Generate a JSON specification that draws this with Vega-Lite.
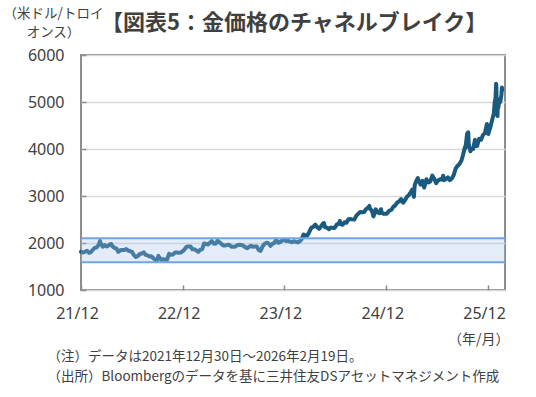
{
  "$schema": "https://vega.github.io/schema/vega-lite/v6.json",
  "autosize": "none",
  "width": 424,
  "height": 235,
  "padding": {"left": 81, "top": 55, "right": 31, "bottom": 107},
  "background": "white",
  "title": {"text": "【図表5：金価格のチャネルブレイク】", "anchor": "start", "frame": "group", "dx": 20, "dy": 47, "offset": 18, "fontSize": 22, "fontWeight": "bold", "color": "#404040", "font": "Noto Sans CJK JP"},
  "config": {
    "font": "Noto Sans CJK JP",
    "view": {"stroke": "#8c8c8c", "strokeWidth": 2},
    "axis": {"labelColor": "#404040", "titleColor": "#404040", "labelFont": "Noto Sans", "labelFontSize": 16, "titleFont": "Noto Sans CJK JP", "titleFontWeight": "normal"}
  },
  "datasets": {
    "gold": [
      {"d":"2021-12-30","p":1815},{"d":"2022-01-07","p":1797},{"d":"2022-01-14","p":1817},{"d":"2022-01-21","p":1835},{"d":"2022-01-28","p":1791},
      {"d":"2022-02-04","p":1807},{"d":"2022-02-11","p":1859},{"d":"2022-02-18","p":1898},{"d":"2022-02-24","p":1903},{"d":"2022-03-04","p":1966},
      {"d":"2022-03-08","p":2043},{"d":"2022-03-11","p":1988},{"d":"2022-03-18","p":1921},{"d":"2022-03-25","p":1958},{"d":"2022-04-01","p":1925},
      {"d":"2022-04-08","p":1947},{"d":"2022-04-14","p":1975},{"d":"2022-04-18","p":1978},{"d":"2022-04-22","p":1931},{"d":"2022-04-29","p":1896},
      {"d":"2022-05-06","p":1883},{"d":"2022-05-13","p":1811},{"d":"2022-05-20","p":1846},{"d":"2022-05-27","p":1853},{"d":"2022-06-03","p":1850},
      {"d":"2022-06-10","p":1871},{"d":"2022-06-17","p":1840},{"d":"2022-06-24","p":1826},{"d":"2022-07-01","p":1811},{"d":"2022-07-08","p":1742},
      {"d":"2022-07-15","p":1703},{"d":"2022-07-21","p":1718},{"d":"2022-07-29","p":1766},{"d":"2022-08-05","p":1775},{"d":"2022-08-12","p":1802},
      {"d":"2022-08-19","p":1747},{"d":"2022-08-26","p":1737},{"d":"2022-09-02","p":1712},{"d":"2022-09-09","p":1716},{"d":"2022-09-16","p":1675},
      {"d":"2022-09-23","p":1644},{"d":"2022-09-28","p":1630},{"d":"2022-10-04","p":1725},{"d":"2022-10-07","p":1695},{"d":"2022-10-14","p":1644},
      {"d":"2022-10-21","p":1656},{"d":"2022-10-28","p":1645},{"d":"2022-11-03","p":1630},{"d":"2022-11-11","p":1771},{"d":"2022-11-18","p":1751},
      {"d":"2022-11-25","p":1754},{"d":"2022-12-02","p":1797},{"d":"2022-12-09","p":1797},{"d":"2022-12-16","p":1793},{"d":"2022-12-23","p":1798},
      {"d":"2022-12-30","p":1824},{"d":"2023-01-06","p":1866},{"d":"2023-01-13","p":1920},{"d":"2023-01-20","p":1926},{"d":"2023-01-27","p":1928},
      {"d":"2023-02-03","p":1865},{"d":"2023-02-10","p":1865},{"d":"2023-02-17","p":1842},{"d":"2023-02-24","p":1811},{"d":"2023-03-03","p":1856},
      {"d":"2023-03-10","p":1868},{"d":"2023-03-17","p":1989},{"d":"2023-03-24","p":1978},{"d":"2023-03-31","p":1969},{"d":"2023-04-07","p":2007},
      {"d":"2023-04-13","p":2040},{"d":"2023-04-21","p":1983},{"d":"2023-04-28","p":1990},{"d":"2023-05-04","p":2050},{"d":"2023-05-12","p":2011},
      {"d":"2023-05-19","p":1977},{"d":"2023-05-26","p":1946},{"d":"2023-06-02","p":1948},{"d":"2023-06-09","p":1961},{"d":"2023-06-16","p":1958},
      {"d":"2023-06-23","p":1921},{"d":"2023-06-30","p":1919},{"d":"2023-07-07","p":1925},{"d":"2023-07-14","p":1955},{"d":"2023-07-21","p":1962},
      {"d":"2023-07-28","p":1959},{"d":"2023-08-04","p":1943},{"d":"2023-08-11","p":1913},{"d":"2023-08-18","p":1889},{"d":"2023-08-25","p":1915},
      {"d":"2023-09-01","p":1940},{"d":"2023-09-08","p":1919},{"d":"2023-09-15","p":1924},{"d":"2023-09-22","p":1925},{"d":"2023-09-29","p":1849},
      {"d":"2023-10-06","p":1833},{"d":"2023-10-13","p":1932},{"d":"2023-10-20","p":1981},{"d":"2023-10-27","p":2006},{"d":"2023-11-03","p":1992},
      {"d":"2023-11-10","p":1940},{"d":"2023-11-17","p":1981},{"d":"2023-11-24","p":2002},{"d":"2023-12-01","p":2072},{"d":"2023-12-08","p":2004},
      {"d":"2023-12-15","p":2019},{"d":"2023-12-22","p":2053},{"d":"2023-12-29","p":2063},{"d":"2024-01-05","p":2045},{"d":"2024-01-12","p":2049},
      {"d":"2024-01-19","p":2029},{"d":"2024-01-26","p":2018},{"d":"2024-02-02","p":2039},{"d":"2024-02-09","p":2024},{"d":"2024-02-16","p":2013},
      {"d":"2024-02-23","p":2035},{"d":"2024-03-01","p":2083},{"d":"2024-03-08","p":2179},{"d":"2024-03-15","p":2155},{"d":"2024-03-22","p":2165},
      {"d":"2024-03-28","p":2230},{"d":"2024-04-05","p":2329},{"d":"2024-04-12","p":2344},{"d":"2024-04-19","p":2391},{"d":"2024-04-26","p":2337},
      {"d":"2024-05-03","p":2302},{"d":"2024-05-10","p":2360},{"d":"2024-05-17","p":2415},{"d":"2024-05-20","p":2425},{"d":"2024-05-24","p":2334},
      {"d":"2024-05-31","p":2327},{"d":"2024-06-07","p":2293},{"d":"2024-06-14","p":2332},{"d":"2024-06-21","p":2321},{"d":"2024-06-28","p":2326},
      {"d":"2024-07-05","p":2392},{"d":"2024-07-12","p":2411},{"d":"2024-07-16","p":2469},{"d":"2024-07-19","p":2400},{"d":"2024-07-26","p":2387},
      {"d":"2024-08-02","p":2443},{"d":"2024-08-09","p":2431},{"d":"2024-08-16","p":2507},{"d":"2024-08-23","p":2512},{"d":"2024-08-30","p":2503},
      {"d":"2024-09-06","p":2497},{"d":"2024-09-13","p":2577},{"d":"2024-09-20","p":2622},{"d":"2024-09-27","p":2658},{"d":"2024-10-04","p":2653},
      {"d":"2024-10-11","p":2657},{"d":"2024-10-18","p":2721},{"d":"2024-10-25","p":2747},{"d":"2024-10-30","p":2788},{"d":"2024-11-01","p":2736},
      {"d":"2024-11-08","p":2685},{"d":"2024-11-14","p":2565},{"d":"2024-11-22","p":2715},{"d":"2024-11-29","p":2650},{"d":"2024-12-06","p":2633},
      {"d":"2024-12-11","p":2718},{"d":"2024-12-13","p":2648},{"d":"2024-12-20","p":2622},{"d":"2024-12-27","p":2621},{"d":"2024-12-31","p":2624},
      {"d":"2025-01-03","p":2640},{"d":"2025-01-10","p":2690},{"d":"2025-01-17","p":2703},{"d":"2025-01-24","p":2771},{"d":"2025-01-31","p":2798},
      {"d":"2025-02-07","p":2861},{"d":"2025-02-14","p":2883},{"d":"2025-02-21","p":2936},{"d":"2025-02-28","p":2858},{"d":"2025-03-07","p":2910},
      {"d":"2025-03-14","p":2984},{"d":"2025-03-21","p":3022},{"d":"2025-03-28","p":3084},{"d":"2025-04-02","p":3134},{"d":"2025-04-08","p":2982},
      {"d":"2025-04-11","p":3237},{"d":"2025-04-17","p":3327},{"d":"2025-04-22","p":3381},{"d":"2025-04-25","p":3319},{"d":"2025-05-02","p":3241},
      {"d":"2025-05-09","p":3325},{"d":"2025-05-15","p":3179},{"d":"2025-05-23","p":3357},{"d":"2025-05-30","p":3289},{"d":"2025-06-06","p":3310},
      {"d":"2025-06-13","p":3433},{"d":"2025-06-20","p":3368},{"d":"2025-06-27","p":3274},{"d":"2025-07-03","p":3326},{"d":"2025-07-11","p":3355},
      {"d":"2025-07-18","p":3350},{"d":"2025-07-22","p":3432},{"d":"2025-07-25","p":3337},{"d":"2025-08-01","p":3363},{"d":"2025-08-08","p":3397},
      {"d":"2025-08-15","p":3336},{"d":"2025-08-22","p":3371},{"d":"2025-08-29","p":3448},{"d":"2025-09-05","p":3586},{"d":"2025-09-12","p":3643},
      {"d":"2025-09-19","p":3685},{"d":"2025-09-26","p":3760},{"d":"2025-10-01","p":3866},{"d":"2025-10-08","p":4040},{"d":"2025-10-10","p":4018},
      {"d":"2025-10-16","p":4326},{"d":"2025-10-20","p":4356},{"d":"2025-10-22","p":4095},{"d":"2025-10-28","p":3953},{"d":"2025-10-31","p":4002},
      {"d":"2025-11-07","p":4001},{"d":"2025-11-13","p":4194},{"d":"2025-11-18","p":4066},{"d":"2025-11-21","p":4065},{"d":"2025-11-28","p":4218},
      {"d":"2025-12-05","p":4198},{"d":"2025-12-12","p":4300},{"d":"2025-12-19","p":4338},{"d":"2025-12-26","p":4532},{"d":"2025-12-29","p":4332},
      {"d":"2025-12-31","p":4319},{"d":"2026-01-07","p":4455},{"d":"2026-01-14","p":4620},{"d":"2026-01-20","p":4760},{"d":"2026-01-23","p":4985},
      {"d":"2026-01-26","p":5090},{"d":"2026-01-28","p":5390},{"d":"2026-01-29","p":5340},{"d":"2026-01-30","p":4900},{"d":"2026-02-02","p":4700},
      {"d":"2026-02-03","p":4950},{"d":"2026-02-05","p":4880},{"d":"2026-02-09","p":5060},{"d":"2026-02-12","p":5000},{"d":"2026-02-16","p":5150},
      {"d":"2026-02-18","p":5310},{"d":"2026-02-19","p":5250}
    ],
    "channel": [{"start":"2021-12-30","end":"2026-03-01","lo":1590,"hi":2100}]
  },
  "resolve": {"axis": {"x": "independent"}},
  "layer": [
    {
      "data": {"name": "gold"},
      "mark": {"type": "line", "color": "#1a5a7e", "strokeWidth": 4, "strokeJoin": "round", "strokeCap": "round"},
      "encoding": {
        "x": {"field": "d", "type": "temporal",
          "scale": {"domain": [{"year":2021,"month":12,"date":30},{"year":2026,"month":3,"date":1}]},
          "axis": {"values": [{"year":2021,"month":12,"date":30},{"year":2022,"month":12,"date":30},{"year":2023,"month":12,"date":30},{"year":2024,"month":12,"date":30},{"year":2025,"month":12,"date":30}],
            "format": "%y/%m", "grid": false, "domain": false, "tickColor": "#8c8c8c", "tickWidth": 1.5, "tickSize": -5, "labelPadding": 20, "labelOffset": -4, "labelFlush": false,
            "title": "（年/月）", "titleFontSize": 14, "titleAnchor": "end", "titleAlign": "right", "titleBaseline": "top", "titleX": 428, "titleY": 42}},
        "y": {"field": "p", "type": "quantitative",
          "scale": {"domain": [1000, 6000], "nice": false},
          "axis": {"values": [1000,2000,3000,4000,5000,6000], "format": "d", "grid": true, "gridColor": "#d9d9d9", "gridWidth": 1.5, "domain": false,
            "tickColor": "#8c8c8c", "tickWidth": 1.5, "tickSize": -5, "labelPadding": 22,
            "title": ["（米ドル/トロイ", "オンス）"], "titleFontSize": 13.5, "titleAngle": 0, "titleAlign": "center", "titleBaseline": "top", "titleLineHeight": 19, "titleX": -28, "titleY": -49}}
      }
    },
    {
      "data": {"name": "channel"},
      "mark": {"type": "rect", "color": "#a8c8f0", "opacity": 0.32},
      "encoding": {
        "x": {"field": "start", "type": "temporal",
          "axis": {"orient": "top", "labels": false, "ticks": false, "domain": false, "grid": false,
            "title": ["（注）データは2021年12月30日～2026年2月19日。", "（出所）Bloombergのデータを基に三井住友DSアセットマネジメント作成"],
            "titleFontSize": 13.5, "titleAnchor": "start", "titleAlign": "left", "titleBaseline": "top", "titleLineHeight": 20, "titleX": -34, "titleY": 294}},
        "x2": {"field": "end"},
        "y": {"field": "lo", "type": "quantitative"},
        "y2": {"field": "hi"}
      }
    },
    {
      "data": {"name": "channel"},
      "mark": {"type": "rule", "color": "#6fa6e0", "strokeWidth": 2},
      "encoding": {"y": {"field": "lo", "type": "quantitative"}}
    },
    {
      "data": {"name": "channel"},
      "mark": {"type": "rule", "color": "#6fa6e0", "strokeWidth": 2},
      "encoding": {"y": {"field": "hi", "type": "quantitative"}}
    }
  ]
}
